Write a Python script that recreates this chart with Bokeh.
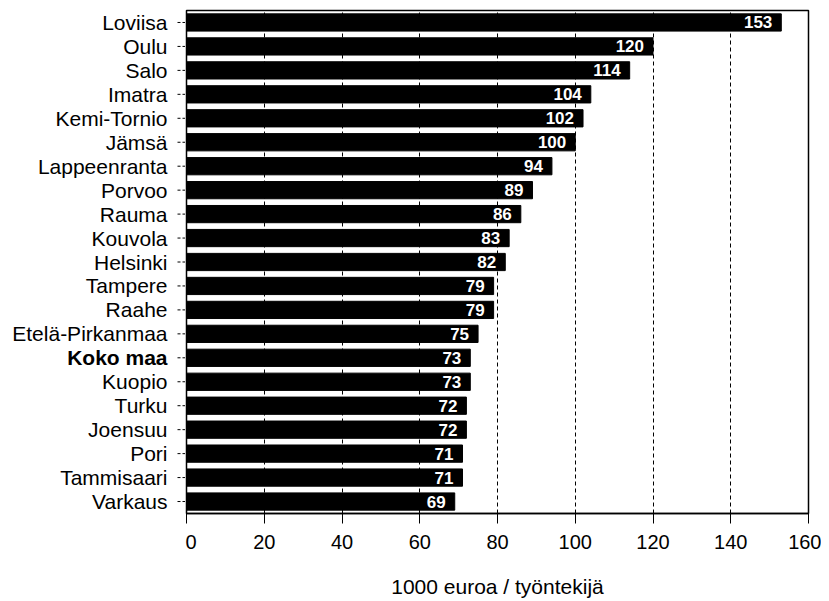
from bokeh.plotting import figure
from bokeh.layouts import row
from bokeh.models import ColumnDataSource, LabelSet, Range1d, SingleIntervalTicker, FactorRange
from bokeh.core.properties import value
from bokeh.embed import file_html
from bokeh.resources import INLINE

cities = ["Loviisa", "Oulu", "Salo", "Imatra", "Kemi-Tornio", "Jämsä", "Lappeenranta",
          "Porvoo", "Rauma", "Kouvola", "Helsinki", "Tampere", "Raahe", "Etelä-Pirkanmaa",
          "Koko maa", "Kuopio", "Turku", "Joensuu", "Pori", "Tammisaari", "Varkaus"]
values = [153, 120, 114, 104, 102, 100, 94, 89, 86, 83, 82, 79, 79, 75, 73, 73, 72, 72, 71, 71, 69]
highlight = ["Koko maa"]
x_ticks_step = 20
x_label = "1000 euroa / työntekijä"

FONT = "Liberation Sans"
H = 600
TOP, BOTTOM = 10, 77
LABEL_W = 185          # width of the label column (pixels); data units == pixels there
TEXT_END = 167         # right edge of category texts
TICK_FROM = 177        # y tick marks span TICK_FROM .. LABEL_W

n = len(cities)
src = ColumnDataSource(dict(
    city=cities, value=values, label=[str(v) for v in values],
    xt=[TEXT_END] * n, t0=[TICK_FROM] * n, t1=[LABEL_W] * n,
    style=["bold" if c in highlight else "normal" for c in cities],
))

yr = FactorRange(factors=list(reversed(cities)), range_padding=0)

# ---- category label column (with y tick marks) ----
lf = figure(width=LABEL_W, height=H, y_range=yr, x_range=Range1d(0, LABEL_W),
            x_axis_type=None, y_axis_type=None, output_backend="svg", toolbar_location=None,
            min_border_left=0, min_border_right=0, min_border_top=TOP, min_border_bottom=BOTTOM)
lf.outline_line_color = None
lf.xgrid.visible = False
lf.ygrid.visible = False
lf.text(x="xt", y="city", text="city", source=src,
        text_align="right", text_baseline="middle", text_font=value(FONT),
        text_font_style="style", text_font_size="21px", text_color="black")
lf.segment(x0="t0", x1="t1", y0="city", y1="city", source=src,
           line_color="black", line_width=1, line_dash="3 2")

# ---- main chart ----
p = figure(width=821 - LABEL_W, height=H, y_range=yr, x_range=Range1d(0, 160),
           output_backend="svg", toolbar_location=None,
           min_border_left=1, min_border_right=13, min_border_top=TOP, min_border_bottom=BOTTOM)

p.hbar(y="city", right="value", height=0.72, source=src, fill_color="black", line_color="black")

labels = LabelSet(x="value", y="city", text="label", source=src, x_offset=-9,
                  text_align="right", text_baseline="middle", text_color="white",
                  text_font=value(FONT), text_font_style="bold", text_font_size="17px")
p.add_layout(labels)

p.xaxis.ticker = SingleIntervalTicker(interval=x_ticks_step)
p.xgrid.ticker = SingleIntervalTicker(interval=x_ticks_step)
p.xgrid.grid_line_color = "black"
p.xgrid.grid_line_dash = "4 3"
p.xgrid.grid_line_width = 1
p.ygrid.visible = False
p.yaxis.visible = False

p.outline_line_color = "black"
p.outline_line_width = 1.5

p.xaxis.axis_label = x_label
p.xaxis.axis_label_text_font = FONT
p.xaxis.axis_label_text_font_style = "normal"
p.xaxis.axis_label_text_font_size = "21px"
p.xaxis.axis_label_text_color = "black"
p.xaxis.axis_label_standoff = 23
p.xaxis.major_label_text_font = FONT
p.xaxis.major_label_text_font_size = "20px"
p.xaxis.major_label_text_color = "black"
p.xaxis.major_label_standoff = 11
p.xaxis.major_tick_out = 10
p.xaxis.major_tick_in = 0
p.xaxis.major_tick_line_color = "black"
p.xaxis.minor_tick_line_color = None
p.xaxis.axis_line_color = "black"
p.xaxis.axis_line_width = 1.5

layout = row(lf, p)
open("out.html", "w").write(file_html(layout, INLINE))
